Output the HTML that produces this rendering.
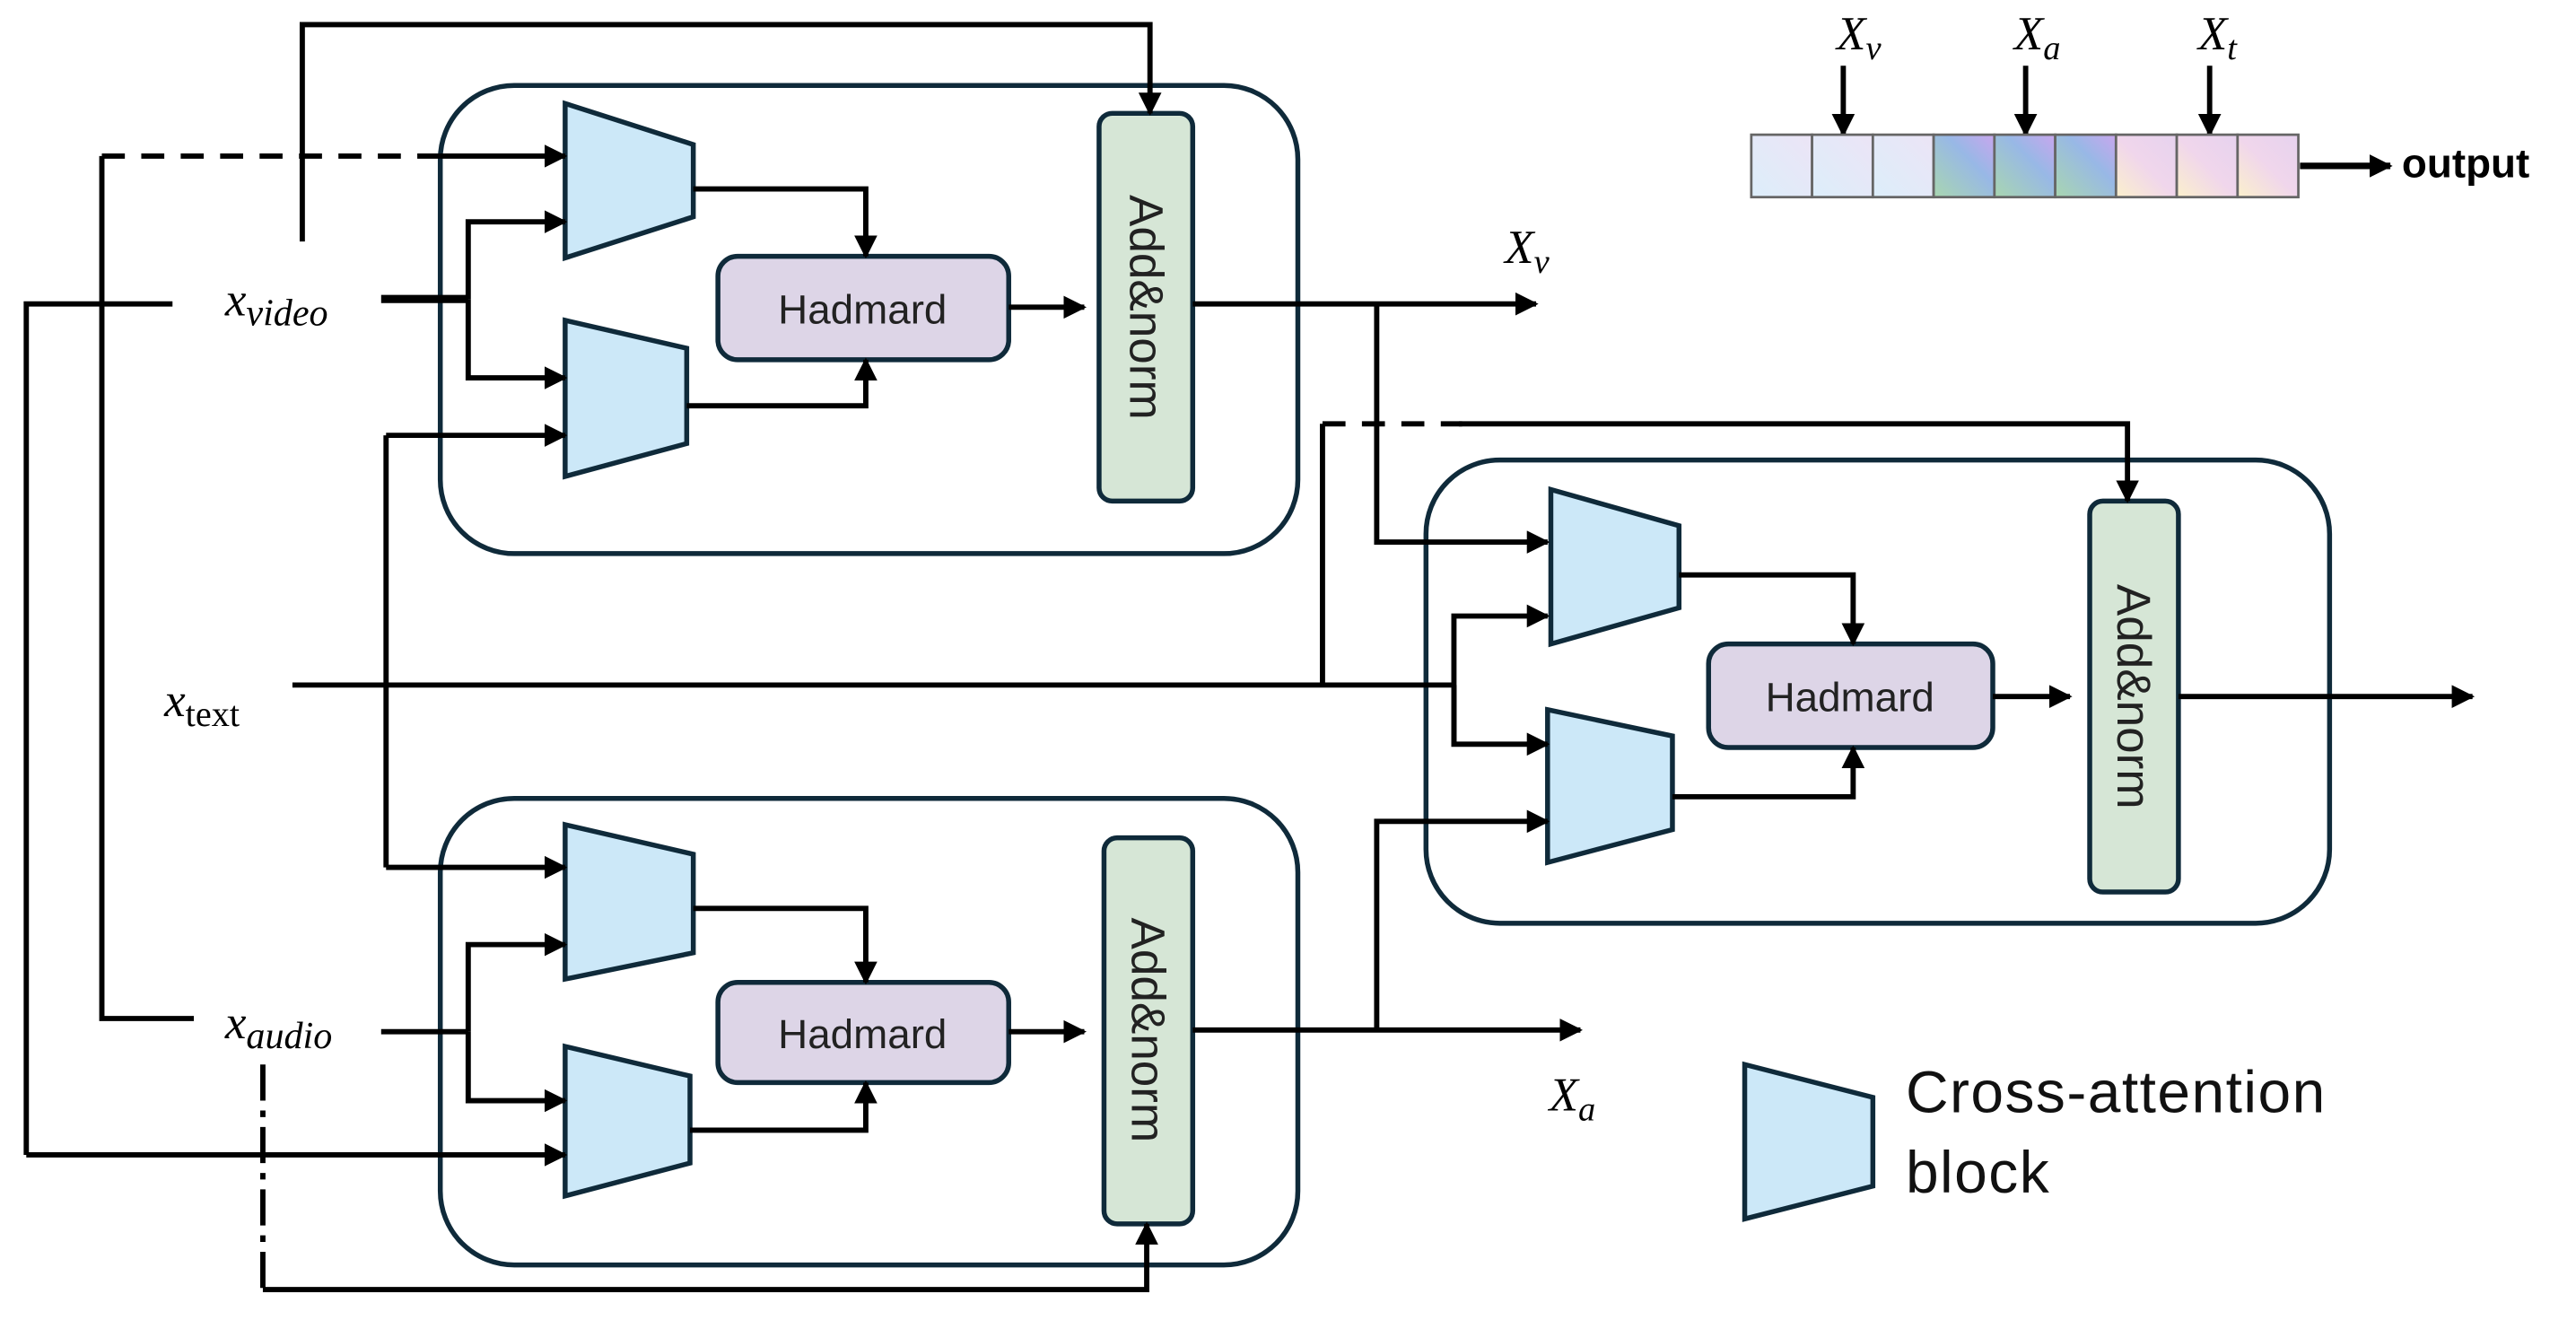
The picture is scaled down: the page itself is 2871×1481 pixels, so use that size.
<!DOCTYPE html>
<html><head><meta charset="utf-8"><style>
html,body{margin:0;padding:0;background:#fff}
svg{display:block}
text{font-family:"Liberation Sans",sans-serif}
.m{font-family:"Liberation Serif",serif;font-style:italic}
</style></head><body>
<svg width="2871" height="1481" viewBox="0 0 1568 809" preserveAspectRatio="none" xmlns="http://www.w3.org/2000/svg">
<defs>
<marker id="b" viewBox="0 0 10 10" refX="9" refY="5" markerWidth="14" markerHeight="14" orient="auto" markerUnits="userSpaceOnUse"><path d="M0,0L10,5L0,10z" fill="#000"/></marker>
<linearGradient id="g1" x1="0" y1="1" x2="1" y2="0"><stop offset="0" stop-color="#dceefa"/><stop offset="1" stop-color="#ece4f6"/></linearGradient>
<linearGradient id="g2" x1="0" y1="1" x2="1" y2="0"><stop offset="0" stop-color="#a8d6b0"/><stop offset="0.6" stop-color="#98b8e6"/><stop offset="1" stop-color="#c9a6ee"/></linearGradient>
<linearGradient id="g3" x1="0" y1="1" x2="1" y2="0"><stop offset="0" stop-color="#fbf0cc"/><stop offset="0.5" stop-color="#f0d6ec"/><stop offset="1" stop-color="#e6d2ee"/></linearGradient>
</defs>
<g fill="none" stroke="#0f2a3a" stroke-width="3">
<rect x="268" y="52" width="522" height="285" rx="45"/>
<rect x="268" y="486" width="522" height="284" rx="45"/>
<rect x="868" y="280" width="550" height="282" rx="45"/>
</g>
<g stroke="#0f2a3a" stroke-width="3" fill="#cce8f8">
<polygon points="344,63 422,88 422,132 344,157"/>
<polygon points="344,195 418,212 418,270 344,290"/>
<polygon points="344,502 422,520 422,580 344,596"/>
<polygon points="344,637 420,655 420,708 344,728"/>
<polygon points="944,298 1022,320 1022,370 944,392"/>
<polygon points="942,432 1018,448 1018,505 942,525"/>
<polygon points="1062,648 1140,668 1140,722 1062,742"/>
</g>
<g stroke="#0f2a3a" stroke-width="3" fill="#ddd5e7">
<rect x="437" y="156" width="177" height="63" rx="12"/>
<rect x="437" y="598" width="177" height="61" rx="12"/>
<rect x="1040" y="392" width="173" height="63" rx="12"/>
</g>
<g stroke="#0f2a3a" stroke-width="3" fill="#d6e6d6">
<rect x="669" y="69" width="57" height="236" rx="8"/>
<rect x="672" y="510" width="54" height="235" rx="8"/>
<rect x="1272" y="305" width="54" height="238" rx="8"/>
</g>
<g font-size="25" fill="#222" text-anchor="middle">
<text x="525" y="197">Hadmard</text>
<text x="525" y="638">Hadmard</text>
<text x="1126" y="433">Hadmard</text>
<text transform="translate(688,187) rotate(90)" font-size="29">Add&amp;norm</text>
<text transform="translate(689,627) rotate(90)" font-size="29">Add&amp;norm</text>
<text transform="translate(1289,424) rotate(90)" font-size="29">Add&amp;norm</text>
</g>
<g fill="none" stroke="#000" stroke-width="3.2">
<path d="M184,147V15H700V69" marker-end="url(#b)"/>
<path d="M62,95H270" stroke-dasharray="14,10"/>
<path d="M268,95H344" marker-end="url(#b)"/>
<path d="M62,95V620H118"/>
<path d="M16,703V185H105"/>
<path d="M16,703H344" marker-end="url(#b)"/>
<path d="M232,182H285" stroke-width="5"/>
<path d="M285,182V135H344" marker-end="url(#b)"/>
<path d="M285,182V230H344" marker-end="url(#b)"/>
<path d="M422,115H527V156" marker-end="url(#b)"/>
<path d="M418,247H527V219" marker-end="url(#b)"/>
<path d="M614,187H660" marker-end="url(#b)"/>
<path d="M726,185H935" marker-end="url(#b)"/>
<path d="M178,417H885"/>
<path d="M235,265V528"/>
<path d="M235,265H344" marker-end="url(#b)"/>
<path d="M235,528H344" marker-end="url(#b)"/>
<path d="M232,628H285"/>
<path d="M285,628V575H344" marker-end="url(#b)"/>
<path d="M285,628V670H344" marker-end="url(#b)"/>
<path d="M422,553H527V598" marker-end="url(#b)"/>
<path d="M420,688H527V659" marker-end="url(#b)"/>
<path d="M614,628H660" marker-end="url(#b)"/>
<path d="M160,648V785" stroke-dasharray="22,6,4,6"/>
<path d="M160,785H698V745" marker-end="url(#b)"/>
<path d="M726,627H962" marker-end="url(#b)"/>
<path d="M838,185V330H942" marker-end="url(#b)"/>
<path d="M838,627V500H942" marker-end="url(#b)"/>
<path d="M805,417V258"/>
<path d="M805,258H890" stroke-dasharray="14,10"/>
<path d="M888,258H1295V305" marker-end="url(#b)"/>
<path d="M885,453V375H942" marker-end="url(#b)"/>
<path d="M885,417V453H942" marker-end="url(#b)"/>
<path d="M1022,350H1128V392" marker-end="url(#b)"/>
<path d="M1018,485H1128V455" marker-end="url(#b)"/>
<path d="M1213,424H1260" marker-end="url(#b)"/>
<path d="M1326,424H1505" marker-end="url(#b)"/>
<path d="M1122,40V82" marker-end="url(#b)"/>
<path d="M1233,40V82" marker-end="url(#b)"/>
<path d="M1345,40V82" marker-end="url(#b)"/>
<path d="M1400,101H1455" stroke-width="4" marker-end="url(#b)"/>
</g>
<g stroke="#666" stroke-width="1.5">
<rect x="1066" y="82" width="37" height="38" fill="url(#g1)"/>
<rect x="1103" y="82" width="37" height="38" fill="url(#g1)"/>
<rect x="1140" y="82" width="37" height="38" fill="url(#g1)"/>
<rect x="1177" y="82" width="37" height="38" fill="url(#g2)"/>
<rect x="1214" y="82" width="37" height="38" fill="url(#g2)"/>
<rect x="1251" y="82" width="37" height="38" fill="url(#g2)"/>
<rect x="1288" y="82" width="37" height="38" fill="url(#g3)"/>
<rect x="1325" y="82" width="37" height="38" fill="url(#g3)"/>
<rect x="1362" y="82" width="37" height="38" fill="url(#g3)"/>
</g>
<text x="1462" y="108" font-size="25" font-weight="bold">output</text>
<g font-size="29" fill="#000">
<text class="m" x="1118" y="30">X<tspan font-size="21" dy="6">v</tspan></text>
<text class="m" x="1226" y="30">X<tspan font-size="21" dy="6">a</tspan></text>
<text class="m" x="1338" y="30">X<tspan font-size="21" dy="6">t</tspan></text>
<text class="m" x="916" y="160">X<tspan font-size="21" dy="6">v</tspan></text>
<text class="m" x="943" y="676">X<tspan font-size="21" dy="6">a</tspan></text>
<text class="m" x="137" y="192">x<tspan font-size="23" dy="6">video</tspan></text>
<text class="m" x="100" y="436">x<tspan font-size="22" dy="6" font-style="normal">text</tspan></text>
<text class="m" x="137" y="632">x<tspan font-size="23" dy="6">audio</tspan></text>
</g>
<text x="1160" y="677" font-size="36" fill="#111" letter-spacing="0.8">Cross-attention</text>
<text x="1160" y="726" font-size="36" fill="#111" letter-spacing="0.8">block</text>
</svg>
</body></html>
